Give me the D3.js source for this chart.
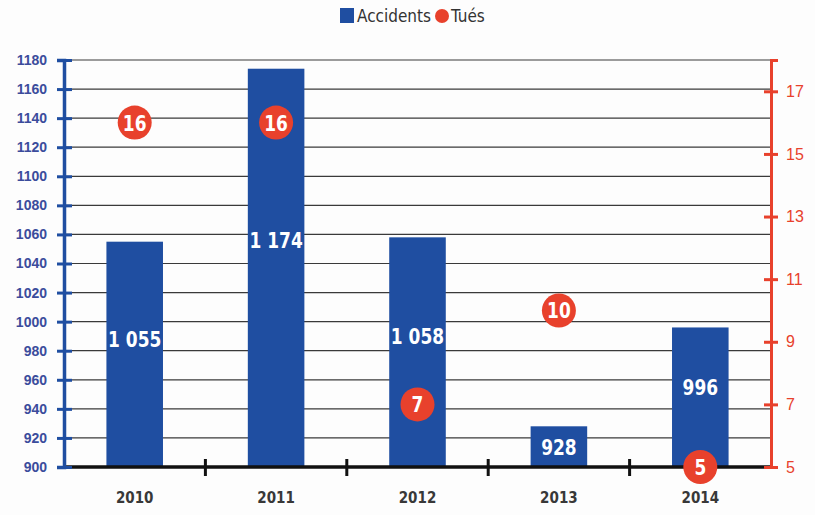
<!DOCTYPE html>
<html>
<head>
<meta charset="utf-8">
<script src="https://cdn.jsdelivr.net/npm/d3@7"></script>
<style>
  body { margin: 0; background: #fdfdfd; }
  svg { display: block; font-family: "DejaVu Sans Condensed", "DejaVu Sans", sans-serif; font-stretch: condensed; }
</style>
</head>
<body>
<div id="chart"></div>
<script>
// data
const years = ["2010", "2011", "2012", "2013", "2014"];
const accidents = [1055, 1174, 1058, 928, 996];
const tues = [16, 16, 7, 10, 5];
const leftTicks = d3.range(900, 1181, 20);
const rightTicks = [5, 7, 9, 11, 13, 15, 17];

const W = 815, H = 515;
const m = { top: 60, right: 44, bottom: 48, left: 64 };
const blue = "#1f4ea1", red = "#e8412c";

const svg = d3.select("#chart").append("svg")
  .attr("width", W).attr("height", H);

const x = d3.scaleBand().domain(years)
  .range([m.left, W - m.right]).paddingInner(0.6).paddingOuter(0.3);
const y = d3.scaleLinear().domain([900, 1180]).range([H - m.bottom, m.top]);
const y2 = d3.scaleLinear().domain([5, 18]).range([H - m.bottom, m.top]);
const cx = i => x(years[i]) + x.bandwidth() / 2;

// grid lines
svg.append("g").selectAll("line")
  .data(leftTicks.slice(1))
  .join("line")
  .attr("x1", m.left).attr("x2", W - m.right)
  .attr("y1", d => y(d)).attr("y2", d => y(d))
  .attr("stroke", "#3a3a3a").attr("stroke-width", 1.2);

// bars
svg.append("g").selectAll("rect")
  .data(accidents)
  .join("rect")
  .attr("x", (d, i) => x(years[i]))
  .attr("width", x.bandwidth())
  .attr("y", d => y(d))
  .attr("height", d => y(900) - y(d))
  .attr("fill", blue);

// bar labels (squeezed a bit to look like the condensed face)
const fmt = d => d >= 1000 ? d3.format(",")(d).replace(",", "\u00a0") : String(d);
svg.append("g").selectAll("text")
  .data(accidents)
  .join("text")
  .attr("transform", (d, i) => {
    const h = y(900) - y(d);
    const ty = (h < 60 ? y(900) - h / 2 : y(900) - h * 0.57) + 8;
    return `translate(${cx(i)},${ty}) scale(0.86,1)`;
  })
  .attr("text-anchor", "middle")
  .attr("fill", "#fff").attr("font-weight", "bold").attr("font-size", 22)
  .text(fmt);

// x axis
const xAxis = svg.append("g").attr("transform", `translate(0,${y(900)})`);
xAxis.append("line").attr("x1", m.left).attr("x2", W - m.right)
  .attr("stroke", "#111").attr("stroke-width", 3.5);
xAxis.selectAll(".sep")
  .data(years.slice(1))
  .join("line")
  .attr("x1", d => x(d) - x.step() * x.paddingInner() / 2)
  .attr("x2", d => x(d) - x.step() * x.paddingInner() / 2)
  .attr("y1", -8).attr("y2", 9)
  .attr("stroke", "#111").attr("stroke-width", 3);
xAxis.selectAll(".lab")
  .data(years)
  .join("text")
  .attr("x", d => x(d) + x.bandwidth() / 2)
  .attr("y", 36)
  .attr("text-anchor", "middle")
  .attr("fill", "#383838").attr("font-weight", "bold").attr("font-size", 15)
  .text(d => d);

// left axis
const gl = svg.append("g").attr("transform", `translate(${m.left},0)`)
  .call(d3.axisLeft(y).tickValues(leftTicks).tickFormat(d3.format("d")).tickSize(7).tickPadding(10));
gl.select(".domain").attr("stroke", blue).attr("stroke-width", 3.5);
gl.selectAll(".tick line").attr("x1", 8).attr("stroke", blue).attr("stroke-width", 3);
gl.selectAll(".tick text").attr("fill", "#3b4c9c").attr("font-weight", "bold")
  .attr("font-size", 14).attr("font-family", null);

// right axis
const gr = svg.append("g").attr("transform", `translate(${W - m.right},0)`)
  .call(d3.axisRight(y2).tickValues(rightTicks).tickSize(7).tickPadding(8));
gr.select(".domain").attr("stroke", red).attr("stroke-width", 3);
gr.selectAll(".tick line").attr("x1", -7).attr("stroke", red).attr("stroke-width", 3);
gr.selectAll(".tick text").attr("fill", red).attr("font-size", 16).attr("font-family", null);

// killed markers
const dots = svg.append("g").selectAll("g")
  .data(tues)
  .join("g")
  .attr("transform", (d, i) => `translate(${cx(i)},${y2(d)})`);
dots.append("circle").attr("r", 17).attr("fill", red);
dots.append("text").attr("text-anchor", "middle").attr("y", 8)
  .attr("transform", "scale(0.86,1)")
  .attr("fill", "#fff").attr("font-weight", "bold").attr("font-size", 22)
  .text(d => d);

// legend
const lg = svg.append("g").attr("transform", "translate(340,16)");
lg.append("rect").attr("x", 0).attr("y", -8).attr("width", 14).attr("height", 15).attr("fill", blue);
lg.append("text").attr("x", 17).attr("y", 6).attr("fill", "#333").attr("font-size", 17).text("Accidents");
lg.append("circle").attr("cx", 102).attr("cy", 0).attr("r", 7).attr("fill", red);
lg.append("text").attr("x", 111).attr("y", 6).attr("fill", "#333").attr("font-size", 17).text("Tués");
</script>
</body>
</html>
